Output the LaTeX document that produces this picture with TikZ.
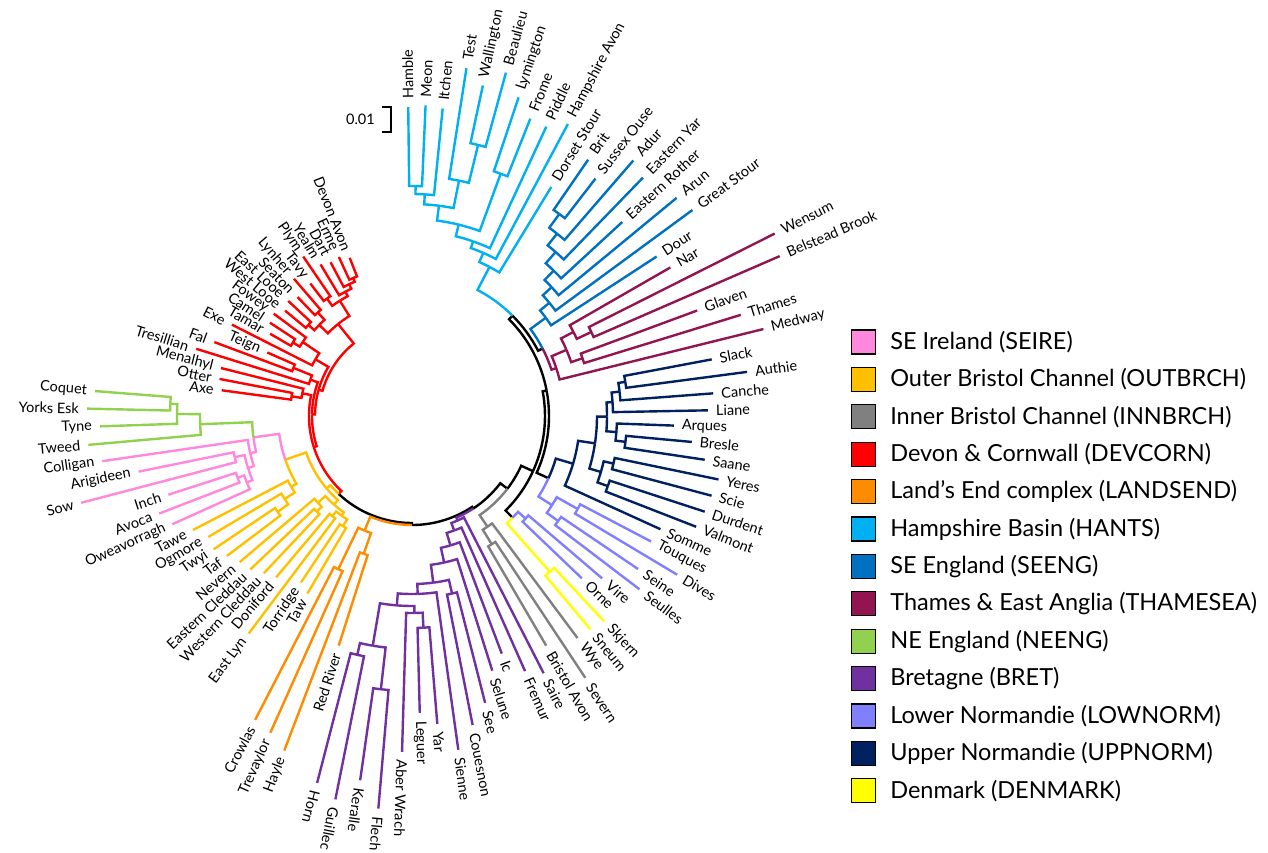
\documentclass[tikz,border=0pt]{standalone}
\usepackage{fontspec}
\setmainfont{Lato}
\usetikzlibrary{positioning}

\definecolor{seire}{HTML}{FF88DD}
\definecolor{outbrch}{HTML}{FFC000}
\definecolor{innbrch}{HTML}{808080}
\definecolor{devcorn}{HTML}{FF0000}
\definecolor{landsend}{HTML}{FF8C00}
\definecolor{hants}{HTML}{00B0F0}
\definecolor{seeng}{HTML}{0070C0}
\definecolor{thamesea}{HTML}{921551}
\definecolor{neeng}{HTML}{92D050}
\definecolor{bret}{HTML}{7030A0}
\definecolor{lownorm}{HTML}{7F7FFF}
\definecolor{uppnorm}{HTML}{002060}
\definecolor{denmark}{HTML}{FFFF00}

\tikzset{
  br/.style={line width=2.4pt},
  lbl/.style={font=\fontsize{14.5}{14.5}\selectfont, inner sep=0pt},
  key/.style={draw=black, line width=1.2pt, minimum size=24pt, inner sep=0pt},
  keytext/.style={font=\fontsize{23.5}{23.5}\selectfont, inner sep=0pt}
}

% leaves sit 3.2 degrees apart, leaf 0 (Hamble) at 90.7 degrees
\newcommand{\branches}[2]{%
  \foreach \pa/\pr/\ka/\kr in {#2}{%
    \draw[br,#1] ({90.7-3.2*\pa}:\pr) arc[start angle={90.7-3.2*\pa}, end angle={90.7-3.2*\ka}, radius=\pr] -- ({90.7-3.2*\ka}:\kr);
  }}
\newcommand{\leaves}[2]{%
  \foreach \pa/\pr/\i/\kr/\nm in {#2}{%
    \draw[br,#1] ({90.7-3.2*\pa}:\pr) arc[start angle={90.7-3.2*\pa}, end angle={90.7-3.2*\i}, radius=\pr] -- ({90.7-3.2*\i}:\kr);
    \pgfmathsetmacro{\la}{90.7-3.2*\i}
    \ifdim\i pt<61.5pt
      \node[lbl, anchor=west, rotate=\la] at ({\la}:{\kr+8}) {\nm};
    \else
      \node[lbl, anchor=east, rotate=\la+180] at ({\la}:{\kr+8}) {\nm};
    \fi
  }}

\begin{document}
\begin{tikzpicture}[x=1pt,y=1pt]
  \useasboundingbox (-412,-436) rectangle (856,416);

  % backbone
  \branches{black}{70/107/56.5/109, 56.5/109/46/111, 46/111/40/120, 40/120/36/133,
    36/133/25/137, 36/133/42.5/143, 25/137/36/150, 25/137/14.3/142, 14.3/142/19.8/147}

  % Devon & Cornwall
  \branches{devcorn}{95.05/93/89.5/97, 89.5/97/84.9/100, 84.9/100/79.1/103, 79.1/103/70/107,
    95.05/93/100.6/118, 89.5/97/94.1/112, 84.9/100/90.75/108, 79.1/103/88.25/112,
    88.25/112/87.5/122, 90.75/108/91.5/128, 94.1/112/95.25/132, 95.25/132/94.5/140,
    100.6/118/98.5/130, 100.6/118/102.7/136, 98.5/130/97.5/138, 98.5/130/99.5/140,
    102.7/136/101.5/145, 102.7/136/103.9/141, 103.9/141/104.75/146, 104.75/146/105.5/150}
  \leaves{devcorn}{87.5/122/87/192/Axe, 87.5/122/88/196/Otter, 88.25/112/89/197/Menalhyl,
    90.75/108/90/226/Tresillian, 91.5/128/91/211/Fal, 91.5/128/92/158/Teign,
    94.1/112/93/202/Exe, 94.5/140/94/164/Tamar, 94.5/140/95/170/Camel,
    95.25/132/96/172/Fowey, 97.5/138/97/165/West Looe, 97.5/138/98/169/East Looe,
    99.5/140/99/165/Seaton, 99.5/140/100/181/Lynher, 101.5/145/101/167/Tavy,
    101.5/145/102/193/Plym, 103.9/141/103/177/Yealm, 104.75/146/104/174/Dart,
    105.5/150/105/175/Erme, 105.5/150/106/170/Devon Avon}

  % Outer Bristol Channel
  \branches{outbrch}{70/107/72/112, 72/112/69.4/118, 72/112/78.65/134, 78.65/134/75.1/140,
    75.1/140/74.25/152, 74.25/152/73.5/165, 69.4/118/67.5/122, 69.4/118/71.25/128,
    71.25/128/70.5/135, 67.5/122/66.5/130, 67.5/122/68.5/128}
  \leaves{outbrch}{66.5/130/66/206/Taw, 66.5/130/67/200/Torridge, 68.5/128/68/272/East Lyn,
    68.5/128/69/211/Doniford, 70.5/135/70/216/Western Cleddau, 70.5/135/71/223/Eastern Cleddau,
    71.25/128/72/226/Nevern, 73.5/165/73/232/Taf, 73.5/165/74/239/Twyi,
    74.25/152/75/237/Ogmore, 75.1/140/76/247/Tawe}

  % SE Ireland
  \branches{seire}{78.65/134/82.2/160, 82.2/160/80.55/166, 80.55/166/79.1/172,
    79.1/172/77.75/178, 79.1/172/80.5/182, 77.75/178/78.5/185}
  \leaves{seire}{77.75/178/77/263/Oweavorragh, 78.5/185/78/271/Avoca, 78.5/185/79/256/Inch,
    80.5/182/80/342/Sow, 80.5/182/81/279/Arigideen, 80.55/166/82/313/Colligan}

  % NE England
  \branches{neeng}{82.2/160/83.9/212, 83.9/212/84.75/235, 84.75/235/85.5/242}
  \leaves{neeng}{83.9/212/83/325/Tweed, 84.75/235/84/312/Tyne,
    85.5/242/85/325/Yorks Esk, 85.5/242/86/318/Coquet}

  % Land's End
  \branches{landsend}{56.5/109/63.5/124, 63.5/124/62.5/146, 63.5/124/64.5/170}
  \leaves{landsend}{62.5/146/62/241/Red River, 62.5/146/63/358/Hayle,
    64.5/170/64/347/Trevaylor, 64.5/170/65/342/Crowlas}

  % Bretagne
  \branches{bret}{46/111/49.1/114, 49.1/114/50.15/122, 50.15/122/51.3/135, 51.3/135/52.6/150,
    52.6/150/54.2/168, 54.2/168/52.5/182, 54.2/168/55.9/178, 55.9/178/57.9/190,
    57.9/190/56.25/197, 57.9/190/59.5/233, 56.25/197/55.5/212, 59.5/233/58.5/275,
    59.5/233/60.5/245}
  \leaves{bret}{49.1/114/48/289/Saire, 50.15/122/49/279/Fremur, 51.3/135/50/254/Ic,
    52.6/150/51/267/Selune, 52.5/182/52/296/See, 52.5/182/53/315/Couesnon,
    55.9/178/54/337/Sienne, 55.5/212/55/309/Yar, 55.5/212/56/297/Leguer,
    56.25/197/57/336/Aber Wrach, 58.5/275/58/394/Flech, 58.5/275/59/368/Keralle,
    60.5/245/60/391/Guillec, 60.5/245/61/379/Horn}

  % Inner Bristol Channel
  \branches{innbrch}{40/120/45.75/134, 45.75/134/46.5/151}
  \leaves{innbrch}{45.75/134/45/277/Wye, 46.5/151/46/314/Severn, 46.5/151/47/266/Bristol Avon}

  % Denmark
  \branches{denmark}{42.5/143/43.5/208}
  \leaves{denmark}{43.5/208/43/281/Skjern, 43.5/208/44/278/Sneum}

  % Lower Normandie
  \branches{lownorm}{42.5/143/41.5/153, 36/150/38.5/166, 38.5/166/37.5/190, 38.5/166/39.5/180}
  \leaves{lownorm}{37.5/190/37/270/Touques, 37.5/190/38/309/Dives, 39.5/180/39/273/Seine,
    39.5/180/40/286/Seulles, 41.5/153/41/250/Vire, 41.5/153/42/235/Orne}

  % Upper Normandie
  \branches{uppnorm}{36/150/33.5/168, 33.5/168/31/185, 31/185/28.4/195, 31/185/33.5/197,
    28.4/195/27.1/201, 28.4/195/29.75/205, 27.1/201/26.25/209, 26.25/209/25.5/216,
    29.75/205/30.5/215, 33.5/197/32.5/207, 33.5/197/34.5/208}
  \leaves{uppnorm}{25.5/216/25/305/Slack, 25.5/216/26/338/Authie, 26.25/209/27/302/Canche,
    27.1/201/28/296/Liane, 29.75/205/29/262/Arques, 30.5/215/30/281/Bresle,
    30.5/215/31/296/Saane, 32.5/207/32/313/Yeres, 32.5/207/33/310/Scie,
    34.5/208/34/308/Durdent, 34.5/208/35/305/Valmont, 33.5/168/36/273/Somme}

  % Thames & East Anglia
  \branches{thamesea}{19.8/147/22.6/152, 22.6/152/21.1/168, 21.1/168/19.75/182,
    21.1/168/22.5/180, 19.75/182/20.5/198}
  \leaves{thamesea}{19.75/182/19/298/Nar, 20.5/198/20/406/Wensum, 20.5/198/21/401/Belstead Brook,
    22.5/180/22/304/Glaven, 22.5/180/23/344/Thames, 22.6/152/24/362/Medway}

  % SE England
  \branches{seeng}{19.8/147/17/166, 17/166/16/178, 16/178/15/190, 15/190/14.05/203,
    14.05/203/13.1/218, 13.1/218/12.25/233, 12.25/233/11.5/250}
  \leaves{seeng}{11.5/250/11/311/Brit, 11.5/250/12/300/Sussex Ouse, 12.25/233/13/338/Adur,
    13.1/218/14/332/Eastern Yar, 14.05/203/15/286/Eastern Rother, 15/190/16/343/Arun,
    16/178/17/348/Great Stour, 17/166/18/292/Dour}

  % Hampshire Basin
  \branches{hants}{14.3/142/8.8/168, 8.8/168/7.6/178, 7.6/178/6.25/185, 6.25/185/4.5/197,
    4.5/197/2.5/212, 4.5/197/6.5/258, 2.5/212/1.25/222, 2.5/212/3.75/240,
    1.25/222/0.5/230, 3.75/240/4.5/279}
  \leaves{hants}{0.5/230/0/309/Hamble, 0.5/230/1/311/Meon, 1.25/222/2/309/Itchen,
    3.75/240/3/352/Test, 4.5/279/4/338/Wallington, 4.5/279/5/356/Beaulieu,
    6.5/258/6/336/Lymington, 6.5/258/7/320/Frome, 6.25/185/8/319/Piddle,
    7.6/178/9/331/Hampshire Avon, 8.8/168/10/268/Dorset Stour}

  % scale bar
  \draw[line width=2pt] (-30,309) -- (-21,309) -- (-21,284) -- (-30,284);
  \node[lbl, anchor=east] (scale) at (-37,297) {0.01};

  % legend
  \foreach \k/\c/\t in {0/seire/SE Ireland (SEIRE), 1/outbrch/Outer Bristol Channel (OUTBRCH),
      2/innbrch/Inner Bristol Channel (INNBRCH), 3/devcorn/Devon \& Cornwall (DEVCORN),
      4/landsend/Land’s End complex (LANDSEND), 5/hants/Hampshire Basin (HANTS),
      6/seeng/SE England (SEENG), 7/thamesea/Thames \& East Anglia (THAMESEA),
      8/neeng/NE England (NEENG), 9/bret/Bretagne (BRET),
      10/lownorm/Lower Normandie (LOWNORM), 11/uppnorm/Upper Normandie (UPPNORM),
      12/denmark/Denmark (DENMARK)} {
    \node[key, fill=\c] (key\k) at (451.5,74-37.4*\k) {};
    \node[keytext, right=14pt of key\k] (txt\k) {\t};
  }
\end{tikzpicture}
\end{document}
